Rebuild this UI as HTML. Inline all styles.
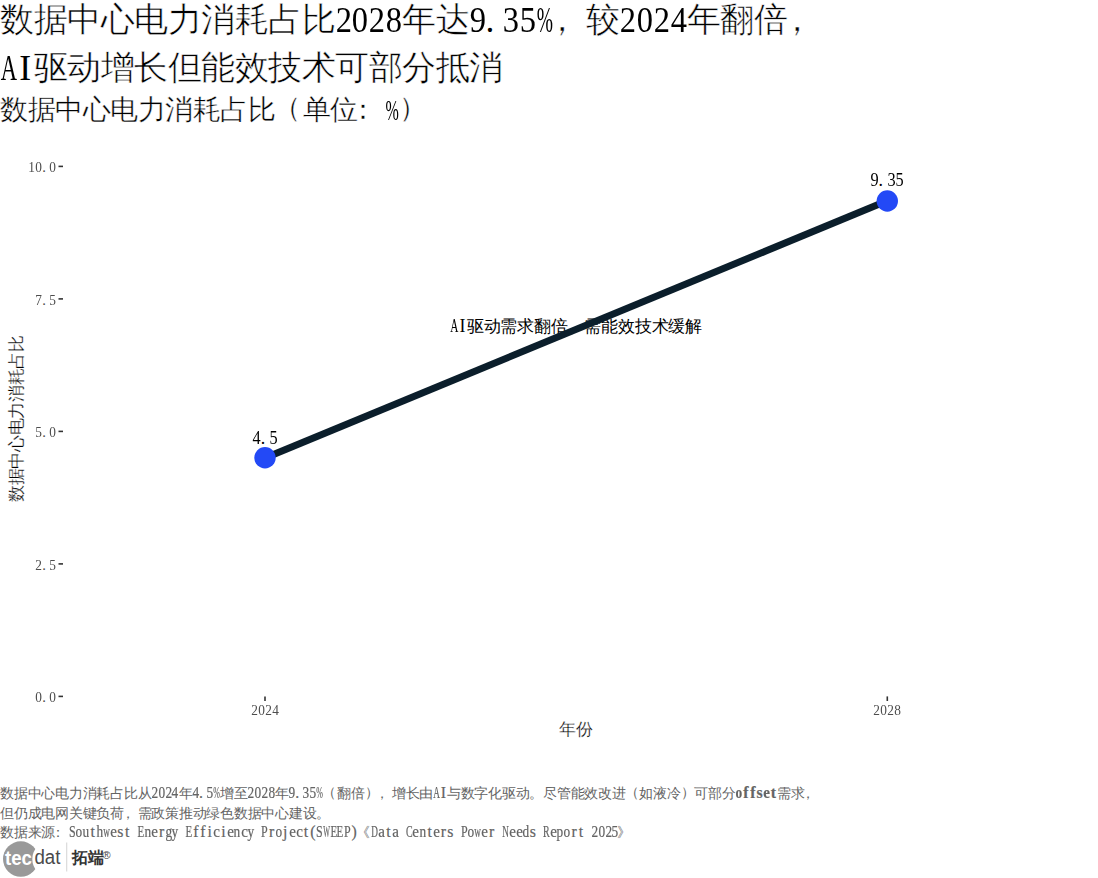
<!DOCTYPE html>
<html><head><meta charset="utf-8">
<style>
html,body{margin:0;padding:0;background:#fff;}
body{width:1098px;height:878px;position:relative;overflow:hidden;font-family:"Liberation Serif";}
.a{position:absolute;white-space:pre;line-height:1;}
i,b{font-style:normal;font-weight:inherit;}
.h{display:inline-block;position:relative;top:var(--ld);width:calc(0.5em / var(--ls));font-size:calc(var(--ls) * 1em);text-align:center;line-height:0;}
.a{--ls:1.06;--ld:0.045em;}
.s{display:inline-block;text-align:center;white-space:nowrap;}
.m{display:inline-block;position:relative;font-family:"Liberation Mono";transform-origin:0 0;white-space:pre;}
.p{position:relative;}
.c{display:inline-block;width:1em;}
.tt .c{-webkit-text-stroke:0.5px #fff;}
.st .c{-webkit-text-stroke:0.4px #fff;}
.thin .c{-webkit-text-stroke:0.25px #fff;}

.cap .h{-webkit-text-stroke:0.2px #646464;}
.yt{font-size:13.75px;color:#4d4d4d;text-align:right;width:40px;}
.xt{font-size:13.75px;color:#4d4d4d;text-align:center;width:60px;}
.lab{font-size:16.8px;color:#000;text-align:center;width:80px;}
.cap{left:0;font-size:13.75px;color:#646464;--ls:1.15;--ld:0.02em}

svg{position:absolute;left:0;top:0;}
</style></head><body>
<div class="a tt" style="left:0;top:2.5px;font-size:33.5px;color:#000"><i class="c">数</i><i class="c">据</i><i class="c">中</i><i class="c">心</i><i class="c">电</i><i class="c">力</i><i class="c">消</i><i class="c">耗</i><i class="c">占</i><i class="c">比</i><i class="h"><b class="s" style="width:0.5000em;margin-left:-0.0142em;transform:scaleX(0.915)">2</b></i><i class="h"><b class="s" style="width:0.5000em;margin-left:-0.0142em;transform:scaleX(0.915)">0</b></i><i class="h"><b class="s" style="width:0.5000em;margin-left:-0.0142em;transform:scaleX(0.915)">2</b></i><i class="h"><b class="s" style="width:0.5000em;margin-left:-0.0142em;transform:scaleX(0.915)">8</b></i><i class="c">年</i><i class="c">达</i><i class="h"><b class="s" style="width:0.5000em;margin-left:-0.0142em;transform:scaleX(0.915)">9</b></i><i class="h"><b style="position:relative;left:-0.12em">.</b></i><i class="h"><b class="s" style="width:0.5000em;margin-left:-0.0142em;transform:scaleX(0.915)">3</b></i><i class="h"><b class="s" style="width:0.5000em;margin-left:-0.0142em;transform:scaleX(0.915)">5</b></i><i class="h"><b class="s" style="width:0.8330em;margin-left:-0.1807em;transform:scaleX(0.549)">%</b></i><i class="c"><b class="p" style="left:-0.220em;top:0.000em">，</b></i><i class="c">较</i><i class="h"><b class="s" style="width:0.5000em;margin-left:-0.0142em;transform:scaleX(0.915)">2</b></i><i class="h"><b class="s" style="width:0.5000em;margin-left:-0.0142em;transform:scaleX(0.915)">0</b></i><i class="h"><b class="s" style="width:0.5000em;margin-left:-0.0142em;transform:scaleX(0.915)">2</b></i><i class="h"><b class="s" style="width:0.5000em;margin-left:-0.0142em;transform:scaleX(0.915)">4</b></i><i class="c">年</i><i class="c">翻</i><i class="c">倍</i><i class="c"><b class="p" style="left:-0.220em;top:0.000em">，</b></i></div>
<div class="a tt" style="left:0;top:50.5px;font-size:33.5px;color:#000"><i class="h"><b class="s" style="width:0.7222em;margin-left:-0.1252em;transform:scaleX(0.634)">A</b></i><i class="h">I</i><i class="c">驱</i><i class="c">动</i><i class="c">增</i><i class="c">长</i><i class="c">但</i><i class="c">能</i><i class="c">效</i><i class="c">技</i><i class="c">术</i><i class="c">可</i><i class="c">部</i><i class="c">分</i><i class="c">抵</i><i class="c">消</i></div>
<div class="a st" style="left:0;top:96px;font-size:27.5px;color:#000"><i class="c">数</i><i class="c">据</i><i class="c">中</i><i class="c">心</i><i class="c">电</i><i class="c">力</i><i class="c">消</i><i class="c">耗</i><i class="c">占</i><i class="c">比</i><i class="c"><b class="p" style="left:-0.070em;top:-0.070em">（</b></i><i class="c">单</i><i class="c">位</i><i class="c"><b class="p" style="left:-0.315em;top:0.000em">：</b></i><i class="h"><b class="s" style="width:0.8330em;margin-left:-0.1807em;transform:scaleX(0.549)">%</b></i><i class="c"><b class="p" style="left:0.015em;top:-0.070em">）</b></i></div>
<svg width="1098" height="878" viewBox="0 0 1098 878">
 <g stroke="#333" stroke-width="1.6">
  <line x1="58.5" y1="166.4" x2="63" y2="166.4"/>
  <line x1="58.5" y1="298.9" x2="63" y2="298.9"/>
  <line x1="58.5" y1="431.4" x2="63" y2="431.4"/>
  <line x1="58.5" y1="563.9" x2="63" y2="563.9"/>
  <line x1="58.5" y1="696.4" x2="63" y2="696.4"/>
  <line x1="265" y1="696.4" x2="265" y2="701"/>
  <line x1="887.3" y1="696.4" x2="887.3" y2="701"/>
 </g>
</svg>
<div class="a yt" style="left:16px;top:160.5px"><i class="h"><b class="s" style="width:0.5000em;margin-left:-0.0142em;transform:scaleX(0.915)">1</b></i><i class="h"><b class="s" style="width:0.5000em;margin-left:-0.0142em;transform:scaleX(0.915)">0</b></i><i class="h"><b style="position:relative;left:-0.12em">.</b></i><i class="h"><b class="s" style="width:0.5000em;margin-left:-0.0142em;transform:scaleX(0.915)">0</b></i></div>
<div class="a yt" style="left:16px;top:293px"><i class="h"><b class="s" style="width:0.5000em;margin-left:-0.0142em;transform:scaleX(0.915)">7</b></i><i class="h"><b style="position:relative;left:-0.12em">.</b></i><i class="h"><b class="s" style="width:0.5000em;margin-left:-0.0142em;transform:scaleX(0.915)">5</b></i></div>
<div class="a yt" style="left:16px;top:425.5px"><i class="h"><b class="s" style="width:0.5000em;margin-left:-0.0142em;transform:scaleX(0.915)">5</b></i><i class="h"><b style="position:relative;left:-0.12em">.</b></i><i class="h"><b class="s" style="width:0.5000em;margin-left:-0.0142em;transform:scaleX(0.915)">0</b></i></div>
<div class="a yt" style="left:16px;top:558px"><i class="h"><b class="s" style="width:0.5000em;margin-left:-0.0142em;transform:scaleX(0.915)">2</b></i><i class="h"><b style="position:relative;left:-0.12em">.</b></i><i class="h"><b class="s" style="width:0.5000em;margin-left:-0.0142em;transform:scaleX(0.915)">5</b></i></div>
<div class="a yt" style="left:16px;top:690.5px"><i class="h"><b class="s" style="width:0.5000em;margin-left:-0.0142em;transform:scaleX(0.915)">0</b></i><i class="h"><b style="position:relative;left:-0.12em">.</b></i><i class="h"><b class="s" style="width:0.5000em;margin-left:-0.0142em;transform:scaleX(0.915)">0</b></i></div>
<div class="a xt" style="left:235px;top:703px"><i class="h"><b class="s" style="width:0.5000em;margin-left:-0.0142em;transform:scaleX(0.915)">2</b></i><i class="h"><b class="s" style="width:0.5000em;margin-left:-0.0142em;transform:scaleX(0.915)">0</b></i><i class="h"><b class="s" style="width:0.5000em;margin-left:-0.0142em;transform:scaleX(0.915)">2</b></i><i class="h"><b class="s" style="width:0.5000em;margin-left:-0.0142em;transform:scaleX(0.915)">4</b></i></div>
<div class="a xt" style="left:857.3px;top:703px"><i class="h"><b class="s" style="width:0.5000em;margin-left:-0.0142em;transform:scaleX(0.915)">2</b></i><i class="h"><b class="s" style="width:0.5000em;margin-left:-0.0142em;transform:scaleX(0.915)">0</b></i><i class="h"><b class="s" style="width:0.5000em;margin-left:-0.0142em;transform:scaleX(0.915)">2</b></i><i class="h"><b class="s" style="width:0.5000em;margin-left:-0.0142em;transform:scaleX(0.915)">8</b></i></div>
<div class="a thin" style="left:559px;top:721.5px;font-size:16.5px;color:#000"><i class="c">年</i><i class="c">份</i></div>
<div class="a thin" style="left:8.5px;top:502px;font-size:16.7px;color:#000;transform-origin:0 0;transform:rotate(-90deg)"><i class="c">数</i><i class="c">据</i><i class="c">中</i><i class="c">心</i><i class="c">电</i><i class="c">力</i><i class="c">消</i><i class="c">耗</i><i class="c">占</i><i class="c">比</i></div>
<div class="a lab" style="left:225px;top:430px"><i class="h"><b class="s" style="width:0.5000em;margin-left:-0.0142em;transform:scaleX(0.915)">4</b></i><i class="h"><b style="position:relative;left:-0.12em">.</b></i><i class="h"><b class="s" style="width:0.5000em;margin-left:-0.0142em;transform:scaleX(0.915)">5</b></i></div>
<div class="a lab" style="left:847px;top:172px"><i class="h"><b class="s" style="width:0.5000em;margin-left:-0.0142em;transform:scaleX(0.915)">9</b></i><i class="h"><b style="position:relative;left:-0.12em">.</b></i><i class="h"><b class="s" style="width:0.5000em;margin-left:-0.0142em;transform:scaleX(0.915)">3</b></i><i class="h"><b class="s" style="width:0.5000em;margin-left:-0.0142em;transform:scaleX(0.915)">5</b></i></div>
<div class="a" style="left:450px;top:318.5px;font-size:16.8px;color:#000"><i class="h"><b class="s" style="width:0.7222em;margin-left:-0.1252em;transform:scaleX(0.634)">A</b></i><i class="h">I</i><i class="c">驱</i><i class="c">动</i><i class="c">需</i><i class="c">求</i><i class="c">翻</i><i class="c">倍</i><i class="c"><b class="p" style="left:-0.220em;top:0.000em">，</b></i><i class="c">需</i><i class="c">能</i><i class="c">效</i><i class="c">技</i><i class="c">术</i><i class="c">缓</i><i class="c">解</i></div>
<svg width="1098" height="878" viewBox="0 0 1098 878">
 <line x1="265" y1="457.9" x2="887.3" y2="200.85" stroke="#0b1e2b" stroke-width="7"/>
 <circle cx="265" cy="457.8" r="10.7" fill="#2349f6"/>
 <circle cx="887.3" cy="201" r="10.7" fill="#2349f6"/>
</svg>
<div class="a cap" style="top:787px"><i class="c">数</i><i class="c">据</i><i class="c">中</i><i class="c">心</i><i class="c">电</i><i class="c">力</i><i class="c">消</i><i class="c">耗</i><i class="c">占</i><i class="c">比</i><i class="c">从</i><i class="h"><b class="s" style="width:0.5000em;margin-left:-0.0326em;transform:scaleX(0.843)">2</b></i><i class="h"><b class="s" style="width:0.5000em;margin-left:-0.0326em;transform:scaleX(0.843)">0</b></i><i class="h"><b class="s" style="width:0.5000em;margin-left:-0.0326em;transform:scaleX(0.843)">2</b></i><i class="h"><b class="s" style="width:0.5000em;margin-left:-0.0326em;transform:scaleX(0.843)">4</b></i><i class="c">年</i><i class="h"><b class="s" style="width:0.5000em;margin-left:-0.0326em;transform:scaleX(0.843)">4</b></i><i class="h"><b style="position:relative;left:-0.12em">.</b></i><i class="h"><b class="s" style="width:0.5000em;margin-left:-0.0326em;transform:scaleX(0.843)">5</b></i><i class="h"><b class="s" style="width:0.8330em;margin-left:-0.1991em;transform:scaleX(0.506)">%</b></i><i class="c">增</i><i class="c">至</i><i class="h"><b class="s" style="width:0.5000em;margin-left:-0.0326em;transform:scaleX(0.843)">2</b></i><i class="h"><b class="s" style="width:0.5000em;margin-left:-0.0326em;transform:scaleX(0.843)">0</b></i><i class="h"><b class="s" style="width:0.5000em;margin-left:-0.0326em;transform:scaleX(0.843)">2</b></i><i class="h"><b class="s" style="width:0.5000em;margin-left:-0.0326em;transform:scaleX(0.843)">8</b></i><i class="c">年</i><i class="h"><b class="s" style="width:0.5000em;margin-left:-0.0326em;transform:scaleX(0.843)">9</b></i><i class="h"><b style="position:relative;left:-0.12em">.</b></i><i class="h"><b class="s" style="width:0.5000em;margin-left:-0.0326em;transform:scaleX(0.843)">3</b></i><i class="h"><b class="s" style="width:0.5000em;margin-left:-0.0326em;transform:scaleX(0.843)">5</b></i><i class="h"><b class="s" style="width:0.8330em;margin-left:-0.1991em;transform:scaleX(0.506)">%</b></i><i class="c"><b class="p" style="left:-0.070em;top:-0.070em">（</b></i><i class="c">翻</i><i class="c">倍</i><i class="c"><b class="p" style="left:0.015em;top:-0.070em">）</b></i><i class="c"><b class="p" style="left:-0.220em;top:0.000em">，</b></i><i class="c">增</i><i class="c">长</i><i class="c">由</i><i class="h"><b class="s" style="width:0.7222em;margin-left:-0.1437em;transform:scaleX(0.584)">A</b></i><i class="h">I</i><i class="c">与</i><i class="c">数</i><i class="c">字</i><i class="c">化</i><i class="c">驱</i><i class="c">动</i><i class="c"><b class="p" style="left:0.000em;top:0.000em">。</b></i><i class="c">尽</i><i class="c">管</i><i class="c">能</i><i class="c">效</i><i class="c">改</i><i class="c">进</i><i class="c"><b class="p" style="left:-0.070em;top:-0.070em">（</b></i><i class="c">如</i><i class="c">液</i><i class="c">冷</i><i class="c"><b class="p" style="left:0.015em;top:-0.070em">）</b></i><i class="c">可</i><i class="c">部</i><i class="c">分</i><span style="font-weight:bold"><i class="h"><b class="s" style="width:0.5000em;margin-left:-0.0326em;transform:scaleX(0.843)">o</b></i><i class="h">f</i><i class="h">f</i><i class="h">s</i><i class="h"><b class="s" style="width:0.4438em;margin-left:-0.0045em;transform:scaleX(0.950)">e</b></i><i class="h">t</i></span><i class="c">需</i><i class="c">求</i><i class="c"><b class="p" style="left:-0.220em;top:0.000em">，</b></i></div>
<div class="a cap" style="top:806.5px"><i class="c">但</i><i class="c">仍</i><i class="c">成</i><i class="c">电</i><i class="c">网</i><i class="c">关</i><i class="c">键</i><i class="c">负</i><i class="c">荷</i><i class="c"><b class="p" style="left:-0.220em;top:0.000em">，</b></i><i class="c">需</i><i class="c">政</i><i class="c">策</i><i class="c">推</i><i class="c">动</i><i class="c">绿</i><i class="c">色</i><i class="c">数</i><i class="c">据</i><i class="c">中</i><i class="c">心</i><i class="c">建</i><i class="c">设</i><i class="c"><b class="p" style="left:0.000em;top:0.000em">。</b></i></div>
<div class="a cap" style="top:826px"><i class="c">数</i><i class="c">据</i><i class="c">来</i><i class="c">源</i><i class="c"><b class="p" style="left:-0.315em;top:0.000em">：</b></i><i class="h"><b class="s" style="width:0.5562em;margin-left:-0.0607em;transform:scaleX(0.758)">S</b></i><i class="h"><b class="s" style="width:0.5000em;margin-left:-0.0326em;transform:scaleX(0.843)">o</b></i><i class="h"><b class="s" style="width:0.5000em;margin-left:-0.0326em;transform:scaleX(0.843)">u</b></i><i class="h">t</i><i class="h"><b class="s" style="width:0.5000em;margin-left:-0.0326em;transform:scaleX(0.843)">h</b></i><i class="h"><b class="s" style="width:0.7222em;margin-left:-0.1437em;transform:scaleX(0.584)">w</b></i><i class="h"><b class="s" style="width:0.4438em;margin-left:-0.0045em;transform:scaleX(0.950)">e</b></i><i class="h">s</i><i class="h">t</i><i class="h">&nbsp;</i><i class="h"><b class="s" style="width:0.6108em;margin-left:-0.0880em;transform:scaleX(0.690)">E</b></i><i class="h"><b class="s" style="width:0.5000em;margin-left:-0.0326em;transform:scaleX(0.843)">n</b></i><i class="h"><b class="s" style="width:0.4438em;margin-left:-0.0045em;transform:scaleX(0.950)">e</b></i><i class="h">r</i><i class="h"><b class="s" style="width:0.5000em;margin-left:-0.0326em;transform:scaleX(0.843)">g</b></i><i class="h"><b class="s" style="width:0.5000em;margin-left:-0.0326em;transform:scaleX(0.843)">y</b></i><i class="h">&nbsp;</i><i class="h"><b class="s" style="width:0.6108em;margin-left:-0.0880em;transform:scaleX(0.690)">E</b></i><i class="h">f</i><i class="h">f</i><i class="h">i</i><i class="h"><b class="s" style="width:0.4438em;margin-left:-0.0045em;transform:scaleX(0.950)">c</b></i><i class="h">i</i><i class="h"><b class="s" style="width:0.4438em;margin-left:-0.0045em;transform:scaleX(0.950)">e</b></i><i class="h"><b class="s" style="width:0.5000em;margin-left:-0.0326em;transform:scaleX(0.843)">n</b></i><i class="h"><b class="s" style="width:0.4438em;margin-left:-0.0045em;transform:scaleX(0.950)">c</b></i><i class="h"><b class="s" style="width:0.5000em;margin-left:-0.0326em;transform:scaleX(0.843)">y</b></i><i class="h">&nbsp;</i><i class="h"><b class="s" style="width:0.5562em;margin-left:-0.0607em;transform:scaleX(0.758)">P</b></i><i class="h">r</i><i class="h"><b class="s" style="width:0.5000em;margin-left:-0.0326em;transform:scaleX(0.843)">o</b></i><i class="h">j</i><i class="h"><b class="s" style="width:0.4438em;margin-left:-0.0045em;transform:scaleX(0.950)">e</b></i><i class="h"><b class="s" style="width:0.4438em;margin-left:-0.0045em;transform:scaleX(0.950)">c</b></i><i class="h">t</i><i class="h">(</i><i class="h"><b class="s" style="width:0.5562em;margin-left:-0.0607em;transform:scaleX(0.758)">S</b></i><i class="h"><b class="s" style="width:0.9438em;margin-left:-0.2545em;transform:scaleX(0.447)">W</b></i><i class="h"><b class="s" style="width:0.6108em;margin-left:-0.0880em;transform:scaleX(0.690)">E</b></i><i class="h"><b class="s" style="width:0.6108em;margin-left:-0.0880em;transform:scaleX(0.690)">E</b></i><i class="h"><b class="s" style="width:0.5562em;margin-left:-0.0607em;transform:scaleX(0.758)">P</b></i><i class="h">)</i><i class="c"><b class="p" style="left:-0.100em;top:0.000em">《</b></i><i class="h"><b class="s" style="width:0.7222em;margin-left:-0.1437em;transform:scaleX(0.584)">D</b></i><i class="h"><b class="s" style="width:0.4438em;margin-left:-0.0045em;transform:scaleX(0.950)">a</b></i><i class="h">t</i><i class="h"><b class="s" style="width:0.4438em;margin-left:-0.0045em;transform:scaleX(0.950)">a</b></i><i class="h">&nbsp;</i><i class="h"><b class="s" style="width:0.6670em;margin-left:-0.1161em;transform:scaleX(0.632)">C</b></i><i class="h"><b class="s" style="width:0.4438em;margin-left:-0.0045em;transform:scaleX(0.950)">e</b></i><i class="h"><b class="s" style="width:0.5000em;margin-left:-0.0326em;transform:scaleX(0.843)">n</b></i><i class="h">t</i><i class="h"><b class="s" style="width:0.4438em;margin-left:-0.0045em;transform:scaleX(0.950)">e</b></i><i class="h">r</i><i class="h">s</i><i class="h">&nbsp;</i><i class="h"><b class="s" style="width:0.5562em;margin-left:-0.0607em;transform:scaleX(0.758)">P</b></i><i class="h"><b class="s" style="width:0.5000em;margin-left:-0.0326em;transform:scaleX(0.843)">o</b></i><i class="h"><b class="s" style="width:0.7222em;margin-left:-0.1437em;transform:scaleX(0.584)">w</b></i><i class="h"><b class="s" style="width:0.4438em;margin-left:-0.0045em;transform:scaleX(0.950)">e</b></i><i class="h">r</i><i class="h">&nbsp;</i><i class="h"><b class="s" style="width:0.7222em;margin-left:-0.1437em;transform:scaleX(0.584)">N</b></i><i class="h"><b class="s" style="width:0.4438em;margin-left:-0.0045em;transform:scaleX(0.950)">e</b></i><i class="h"><b class="s" style="width:0.4438em;margin-left:-0.0045em;transform:scaleX(0.950)">e</b></i><i class="h"><b class="s" style="width:0.5000em;margin-left:-0.0326em;transform:scaleX(0.843)">d</b></i><i class="h">s</i><i class="h">&nbsp;</i><i class="h"><b class="s" style="width:0.6670em;margin-left:-0.1161em;transform:scaleX(0.632)">R</b></i><i class="h"><b class="s" style="width:0.4438em;margin-left:-0.0045em;transform:scaleX(0.950)">e</b></i><i class="h"><b class="s" style="width:0.5000em;margin-left:-0.0326em;transform:scaleX(0.843)">p</b></i><i class="h"><b class="s" style="width:0.5000em;margin-left:-0.0326em;transform:scaleX(0.843)">o</b></i><i class="h">r</i><i class="h">t</i><i class="h">&nbsp;</i><i class="h"><b class="s" style="width:0.5000em;margin-left:-0.0326em;transform:scaleX(0.843)">2</b></i><i class="h"><b class="s" style="width:0.5000em;margin-left:-0.0326em;transform:scaleX(0.843)">0</b></i><i class="h"><b class="s" style="width:0.5000em;margin-left:-0.0326em;transform:scaleX(0.843)">2</b></i><i class="h"><b class="s" style="width:0.5000em;margin-left:-0.0326em;transform:scaleX(0.843)">5</b></i><i class="c"><b class="p" style="left:-0.150em;top:0.000em">》</b></i></div>
<svg width="1098" height="878" viewBox="0 0 1098 878">
 <defs><mask id="lm"><rect x="0" y="830" width="120" height="48" fill="#fff"/><circle cx="50.5" cy="859" r="18.2" fill="#000"/></mask></defs>
 <circle cx="20.75" cy="859.05" r="17.75" fill="#999" mask="url(#lm)"/>
 <text x="5" y="864.5" font-family="Liberation Sans" font-weight="bold" font-size="20" fill="#fff" textLength="27" lengthAdjust="spacingAndGlyphs">tec</text>
 <text x="34.4" y="864.4" font-family="Liberation Sans" font-size="20" fill="#4a4a4a" textLength="26" lengthAdjust="spacingAndGlyphs">dat</text>
 <rect x="66" y="842.5" width="1.3" height="29" fill="#ddd"/>
</svg>
<div class="a" style="left:72px;top:849.5px;font-size:16px;font-weight:bold;color:#333"><i class="c">拓</i><i class="c">端</i></div>
<div class="a" style="left:102.5px;top:850px;font-family:'Liberation Sans';font-size:11px;color:#444">®</div>
</body></html>
